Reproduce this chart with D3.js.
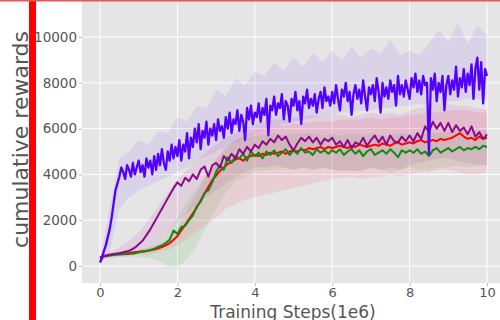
<!DOCTYPE html>
<html><head><meta charset="utf-8">
<script src="https://cdn.jsdelivr.net/npm/d3@7"></script>
<style>body{margin:0;background:#fff}svg{display:block}text{font-family:"DejaVu Sans",sans-serif}</style>
</head><body><svg id="c" width="500" height="320"></svg>
<script>
// ---- data ----
const xTicks = [0, 2, 4, 6, 8, 10];
const yTicks = [0, 2000, 4000, 6000, 8000, 10000];
const xLabel = "Training Steps(1e6)";
const yLabel = "cumulative rewards";

// blue series, step 0.05 from 0 to 10
const blueVals = [
150,350,650,900,1250,1600,2100,2700,3300,3600,
3900,4300,4100,3800,4400,4200,3900,4500,4000,4300,
4600,4100,4400,3900,4700,4300,4600,4000,4800,4200,
4900,4400,5100,4500,4200,5000,4600,5300,4700,5200,
4800,5500,4600,5300,5000,5800,4700,5600,5200,6000,
5400,6200,5100,5900,5600,6300,5300,6000,5700,6200,
5500,6400,5900,6100,5600,6500,6000,6700,5800,6400,
6200,6800,5900,6600,6300,5500,6900,6400,7000,6200,
6700,6500,7100,6300,6900,6600,7300,5700,7000,6800,
7400,6600,7100,6900,7500,6400,7200,7000,6300,7300,
7000,7600,6800,7200,6200,7400,7100,7700,6900,7300,
7000,7500,6700,7300,7600,6900,7800,7200,7400,7000,
7600,7100,7900,7300,6800,7700,7400,8000,7200,7600,
6600,7500,7900,7300,7700,7100,8100,7400,6800,7800,
7500,7900,7200,8200,7600,6700,8000,7400,7800,7300,
8100,7600,7900,7000,8300,7500,7900,7400,8100,7700,
7300,8200,7800,8400,7600,8100,7500,8300,7900,8000,
4900,8200,7700,8400,7200,8000,7600,8300,6800,7900,
8300,7500,8100,7700,8700,7400,8200,7800,8600,7600,
8400,7900,8800,7300,8600,9100,7700,8900,7100,8600,
8300];
// purple, red, green series, step 0.1 from 0 to 10
const purpleVals = [
350,420,460,500,540,560,600,640,700,800,
950,1100,1350,1600,1900,2200,2500,2800,3100,3400,
3650,3500,3850,3700,4000,3800,4200,4350,3900,4400,
4500,4300,4800,4600,4900,4700,5100,4900,5200,5000,
5300,5150,5450,5300,5550,5400,5700,5500,5650,5300,
5050,5350,5600,5450,5650,5400,5600,5300,5550,5450,
5600,5300,5450,5200,5500,5150,5400,5300,5600,5250,
5500,5700,5400,5650,5300,5700,5450,5400,5650,5450,
5700,5450,5800,5550,6100,5850,6300,6000,6250,5900,
6250,5850,6150,5900,6050,5750,6100,5650,5850,5550,
5750];
const redVals = [
380,440,480,500,520,530,540,560,580,600,
620,640,660,690,720,760,830,900,1000,1150,
1300,1550,1800,2050,2300,2550,2850,3150,3450,3750,
3950,4150,4300,4450,4550,4650,4700,4600,4750,4800,
4850,4800,4900,4850,4950,4900,4950,5000,4900,5000,
5050,5000,5100,5050,5150,5100,5150,5200,5100,5200,
5150,5200,5250,5200,5150,5250,5200,5300,5250,5200,
5250,5300,5250,5350,5300,5250,5350,5400,5300,5350,
5400,5350,5450,5500,5400,5450,5500,5450,5550,5500,
5550,5600,5700,5800,5650,5550,5600,5500,5650,5550,
5600];
const greenVals = [
350,420,450,470,490,500,510,520,530,550,
600,620,650,700,760,830,900,1000,1150,1550,
1400,1700,1750,2000,2200,2600,2800,3200,3300,3650,
4100,4400,4200,4750,4500,4800,4700,4900,4600,5000,
4800,4950,4700,5000,4850,5050,4800,4950,5100,4850,
5050,4900,5150,4950,5000,4850,5100,4950,5050,4900,
5050,4950,5100,4850,5000,5100,4900,5050,4800,5000,
5100,4850,4950,5050,4900,5100,4950,4750,5050,4950,
5050,4950,5100,4900,5000,4800,5050,5150,4950,5050,
5150,5000,5100,5200,5050,5150,5100,5200,5100,5250,
5200];
// shaded bands, step 0.25 from 0 to 10
const blueUpper = [200,2500,4700,5000,5500,5300,5900,5800,6500,6300,7000,6900,7700,7400,8200,7900,8500,8300,8900,8500,9100,8700,9300,8900,9400,9000,9600,9100,9500,9300,9900,9200,9400,9200,9700,10300,9800,10600,9700,10500,10100];
const blueLower = [100,600,2500,3000,3300,3500,3700,3900,4100,4300,4600,4800,5000,5200,5400,5600,5800,6000,6100,6200,6300,6400,6500,6500,6600,6700,6700,6800,6800,6900,6900,7000,7000,7100,7000,7100,7200,7200,7300,7300,7300];
const purpleUpper = [450,600,800,1100,1500,2000,2600,3200,3800,4200,4600,5000,5300,5600,5800,6000,6200,6300,6400,6400,6500,6500,6600,6500,6600,6600,6500,6600,6700,6600,6700,6600,6800,6900,7000,7100,7100,7000,7000,6900,6800];
const purpleLower = [300,400,450,500,550,700,1000,1400,1900,2300,2700,3000,3300,3600,3900,4100,4300,4300,4400,4300,4200,4300,4200,4300,4200,4100,4200,4100,4300,4200,4300,4200,4400,4500,4600,4700,4700,4600,4500,4400,4400];
const redUpper = [450,550,600,650,700,800,950,1200,1700,2400,3200,4000,4700,5100,5500,5700,5900,6000,6100,6100,6200,6200,6300,6300,6300,6400,6400,6400,6500,6400,6500,6500,6600,6600,6700,6700,6800,6800,6800,6700,6700];
const redLower = [300,350,400,450,500,500,600,700,900,1200,1500,1800,2100,2500,2700,2900,3000,3100,3200,3300,3400,3500,3600,3700,3800,3850,3900,3800,3900,3900,4000,3900,4000,4100,4100,4200,4200,4100,4000,4000,4100];
const greenUpper = [450,520,560,600,680,800,1000,1400,2100,2800,3400,4000,4600,5200,5500,5600,5700,5700,5800,5700,5800,5800,5800,5700,5800,5700,5800,5700,5800,5700,5700,5800,5800,5700,5800,5800,5900,5900,5900,5900,5900];
const greenLower = [250,350,400,400,400,350,250,0,-100,300,900,1700,2500,3200,3700,3900,4100,4200,4200,4300,4200,4300,4200,4300,4200,4200,4100,4200,4300,4200,4100,4200,4300,4200,4200,4300,4300,4400,4300,4400,4400];

// ---- drawing ----
const svg = d3.select("#c");
const W = 500, H = 320;
const plot = {left: 82, right: 500, top: 0, bottom: 283};
const x = d3.scaleLinear().domain([0, 10]).range([100, 487]);
const y = d3.scaleLinear().domain([0, 10000]).range([266, 37]);

svg.append("rect").attr("x", plot.left).attr("y", plot.top)
  .attr("width", plot.right - plot.left).attr("height", plot.bottom - plot.top)
  .attr("fill", "#e5e5e5");

svg.append("defs").append("clipPath").attr("id", "clip")
  .append("rect").attr("x", plot.left).attr("y", plot.top)
  .attr("width", plot.right - plot.left).attr("height", plot.bottom - plot.top);

// grid
const grid = svg.append("g");
grid.selectAll(".gx").data(xTicks).join("line")
  .attr("x1", d => x(d)).attr("x2", d => x(d)).attr("y1", plot.top).attr("y2", plot.bottom)
  .attr("stroke", "#fff").attr("stroke-width", 1);
grid.selectAll(".gy").data(yTicks).join("line")
  .attr("x1", plot.left).attr("x2", plot.right).attr("y1", d => y(d)).attr("y2", d => y(d))
  .attr("stroke", "#fff").attr("stroke-width", 1);

const g = svg.append("g").attr("clip-path", "url(#clip)");

function series(vals, step) { return vals.map((v, i) => [i * step, v]); }
function band(up, lo, step) { return up.map((u, i) => [i * step, lo[i], u]); }

const area = d3.area().x(d => x(d[0])).y0(d => y(d[1])).y1(d => y(d[2]));
const line = d3.line().x(d => x(d[0])).y(d => y(d[1]));

const bands = [
  {d: band(greenUpper, greenLower, 0.25), c: "#00a000", o: 0.09},
  {d: band(redUpper, redLower, 0.25), c: "#ff2050", o: 0.11},
  {d: band(purpleUpper, purpleLower, 0.25), c: "#b0008c", o: 0.09},
  {d: band(blueUpper, blueLower, 0.25), c: "#5500ff", o: 0.08}
];
bands.forEach(b => g.append("path").attr("d", area(b.d)).attr("fill", b.c).attr("fill-opacity", b.o));

const lines = [
  {d: series(redVals, 0.1), c: "#ff0000", w: 2},
  {d: series(greenVals, 0.1), c: "#108a10", w: 2},
  {d: series(purpleVals, 0.1), c: "#8b0a8b", w: 2},
  {d: series(blueVals, 0.05), c: "#5200ff", w: 2.3}
];
lines.forEach(l => g.append("path").attr("d", line(l.d)).attr("fill", "none")
  .attr("stroke", l.c).attr("stroke-width", l.w).attr("stroke-linejoin", "round"));

// axes
const yAxis = d3.axisLeft(y).tickValues(yTicks).tickSize(3).tickPadding(2).tickFormat(d3.format("d"));
const ya = svg.append("g").attr("transform", `translate(${plot.left},0)`).call(yAxis);
const xAxis = d3.axisBottom(x).tickValues(xTicks).tickSize(3).tickPadding(2).tickFormat(d3.format("d"));
const xa = svg.append("g").attr("transform", `translate(0,${plot.bottom})`).call(xAxis);
[ya, xa].forEach(a => {
  a.select(".domain").remove();
  a.selectAll(".tick line").attr("stroke", "#bbb");
  a.selectAll(".tick text").attr("fill", "#555").attr("font-size", "13.5px")
    .attr("font-family", "DejaVu Sans");
});
xa.selectAll(".tick text").attr("font-size", "13px");

svg.append("text").attr("x", 293).attr("y", 317.5).attr("text-anchor", "middle")
  .attr("font-size", "17px").attr("fill", "#555").text(xLabel);
svg.append("text").attr("transform", "translate(28,139.5) rotate(-90)").attr("text-anchor", "middle")
  .attr("font-size", "22px").attr("fill", "#555").text(yLabel);

// decorations: red bar and top line
svg.append("rect").attr("x", 29).attr("y", 0).attr("width", 7).attr("height", H).attr("fill", "#ff0000");
svg.append("rect").attr("x", 0).attr("y", 0).attr("width", W).attr("height", 1.5).attr("fill", "#e05a5a");
</script></body></html>
